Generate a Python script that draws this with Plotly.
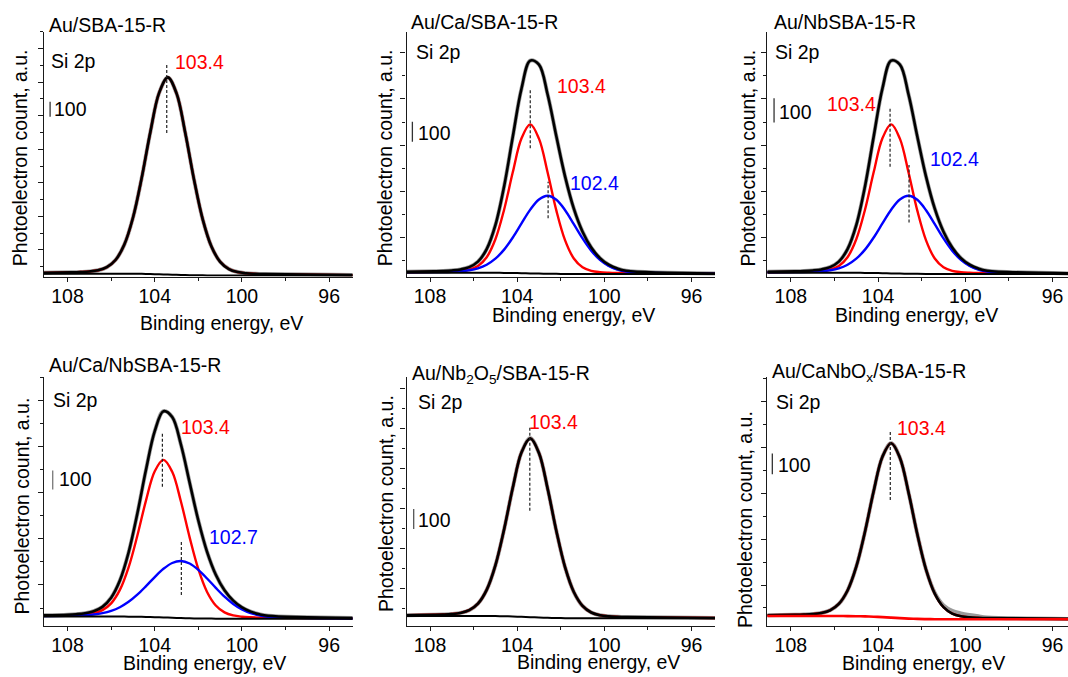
import plotly.graph_objects as go

W, H = 1068, 677
FONT = "Liberation Sans, Arial, Helvetica, sans-serif"
FS = 19.5
RED = "#ff0000"
BLUE = "#0000ff"
GREY = "#9a9a9a"
BLACK = "#000000"
AXC = "#1a1a1a"

# ---------------- data (binding energy, eV / photoelectron counts) ----------------
energy_a = [109.08, 107.8, 107.4, 107.0, 106.6, 106.2, 105.8, 105.4, 105.0, 104.6, 104.2, 103.8,
            103.4, 103.0, 102.6, 102.2, 101.8, 101.4, 101.0, 100.6, 100.2, 99.8, 99.4, 99.0, 94.92]
energy_b = [109.08, 108.0, 107.6, 107.2, 106.8, 106.4, 106.0, 105.6, 105.2, 104.8, 104.4, 104.0,
            103.6, 103.2, 102.8, 102.4, 102.0, 101.6, 101.2, 100.8, 100.4, 100.0, 99.6, 99.2, 98.8, 94.92]

# Au/SBA-15-R
p1_env = [24.5, 27.9, 29.8, 33.3, 41.6, 61.9, 110.0, 211.3, 391.6, 656.4, 964.6, 1224.8,
          1328.0, 1221.0, 957.6, 647.2, 381.0, 199.9, 98.1, 49.9, 29.6, 21.3, 17.8, 15.9, 9.5]
p1_bg = [19, 19, 19, 19, 19, 19, 18.9, 18.7, 18.3, 17.6, 16.5, 14.9,
         13.0, 11.1, 9.5, 8.4, 7.7, 7.3, 7.0, 7.0, 7.0, 7.0, 7.0, 7.0, 7.0]

# Au/Ca/SBA-15-R
p2_env = [23.6, 26.3, 27.7, 30.4, 35.4, 47.0, 74.5, 136.5, 256.7, 450.4, 699.9, 940.1,
          1079.2, 1059.8, 908.7, 699.8, 499.2, 339.3, 224.0, 144.6, 92.1, 59.0, 39.5, 29.0, 15.1]
p2_red = [21.6, 23.2, 24.0, 25.4, 28.1, 34.7, 52.5, 96.4, 186.2, 334.0, 522.1, 691.1,
          760.6, 689.3, 518.7, 329.3, 180.6, 90.3, 46.2, 28.2, 21.6, 18.9, 17.5, 16.7, 13.7]
p2_blue = [21.0, 22.1, 22.7, 24.0, 26.3, 31.3, 40.9, 58.9, 89.0, 134.4, 195.1, 265.5,
           334.2, 385.2, 403.9, 383.8, 331.5, 261.7, 190.4, 128.9, 83.0, 52.6, 34.5, 24.8, 13.9]
p2_bg = [19.0, 19.0, 19.0, 19.0, 19.0, 19.0, 18.9, 18.8, 18.5, 18.0, 17.3, 16.5,
         15.6, 14.7, 13.9, 13.3, 12.9, 12.7, 12.6, 12.5, 12.5, 12.5, 12.5, 12.5, 12.5]

# Au/NbSBA-15-R
p3_env = [19.4, 21.6, 22.7, 24.9, 29.0, 38.5, 61.1, 111.9, 210.5, 369.3, 573.9, 770.9,
          884.9, 869.0, 745.1, 573.8, 409.3, 278.2, 183.7, 118.6, 75.5, 48.4, 32.4, 23.8, 12.4]
p3_red = [17.7, 19.0, 19.7, 20.8, 23.0, 28.5, 43.1, 79.0, 152.7, 273.9, 428.1, 566.7,
          623.7, 565.2, 425.3, 270.0, 148.1, 74.0, 37.9, 23.1, 17.7, 15.5, 14.4, 13.7, 11.2]
p3_blue = [17.2, 18.1, 18.6, 19.7, 21.6, 25.7, 33.5, 48.3, 73.0, 110.2, 160.0, 217.7,
           274.0, 315.9, 331.2, 314.7, 271.8, 214.6, 156.1, 105.7, 68.1, 43.1, 28.3, 20.3, 11.4]
p3_bg = [15.6, 15.6, 15.6, 15.6, 15.6, 15.6, 15.5, 15.4, 15.2, 14.8, 14.2, 13.5,
         12.8, 12.1, 11.4, 10.9, 10.6, 10.4, 10.3, 10.3, 10.3, 10.3, 10.3, 10.3, 10.3]

# Au/Ca/NbSBA-15-R
p4_env = [53.8, 57.1, 59.8, 64.8, 75.5, 98.9, 147.4, 238.2, 386.7, 592.2, 826.3, 1030.2,
          1135.5, 1104.7, 959.2, 757.4, 556.4, 390.4, 269.3, 186.5, 131.7, 96.2, 73.6, 59.6, 51.6, 39.1]
p4_red = [51.7, 53.7, 55.3, 58.3, 65.0, 81.3, 117.4, 188.6, 308.3, 475.4, 663.2, 817.7,
          877.7, 814.5, 657.2, 467.2, 298.6, 177.9, 106.2, 69.7, 53.3, 46.6, 43.6, 42.0, 41.1, 37.7]
p4_blue = [49.8, 51.1, 52.2, 54.2, 58.2, 65.3, 77.6, 97.0, 125.4, 163.2, 208.6, 256.7,
           300.5, 331.2, 341.5, 328.4, 295.1, 249.2, 199.5, 152.9, 114.4, 85.6, 66.0, 53.6, 46.5, 37.4]
p4_bg = [47.7, 47.7, 47.7, 47.7, 47.7, 47.7, 47.6, 47.4, 47.0, 46.4, 45.5, 44.2,
         42.7, 41.0, 39.5, 38.2, 37.3, 36.7, 36.4, 36.1, 36.0, 36.0, 36.0, 36.0, 36.0, 36.0]

# Au/Nb2O5/SBA-15-R
p5_env = [51.3, 53.6, 54.8, 57.2, 62.9, 76.6, 109.4, 178.2, 300.7, 480.5, 689.7, 866.1,
          935.8, 862.6, 683.0, 471.6, 290.4, 167.3, 98.0, 65.1, 51.4, 45.7, 43.3, 42.1, 37.7]
p5_bg = [47.5, 47.5, 47.5, 47.5, 47.5, 47.5, 47.4, 47.2, 46.9, 46.2, 45.1, 43.5,
         41.8, 40.0, 38.4, 37.3, 36.6, 36.3, 36.0, 36.0, 36.0, 36.0, 36.0, 36.0, 36.0]

# Au/CaNbOx/SBA-15-R
p6_env = [49.1, 51.3, 52.5, 54.7, 60.0, 72.9, 103.5, 167.8, 282.3, 450.4, 645.8, 810.2,
          874.7, 805.4, 636.7, 438.2, 268.3, 152.8, 87.8, 57.1, 44.2, 38.9, 36.7, 35.5, 31.4]
p6_data = [49.1, 51.3, 52.5, 54.7, 60.0, 72.9, 103.5, 167.8, 282.3, 450.4, 645.8, 810.2,
           874.7, 805.4, 636.7, 438.2, 268.3, 156.0, 96.0, 70.0, 58.0, 50.0, 44.0, 39.0, 31.4]
p6_bg = [45.6, 45.6, 45.6, 45.6, 45.6, 45.6, 45.5, 45.2, 44.7, 43.8, 42.3, 40.1,
         37.7, 35.3, 33.2, 31.6, 30.7, 30.2, 29.8, 29.8, 29.8, 29.8, 29.8, 29.8, 29.8]

sample_names = ["Au/SBA-15-R", "Au/Ca/SBA-15-R", "Au/NbSBA-15-R", "Au/Ca/NbSBA-15-R",
                "Au/Nb<sub>2</sub>O<sub>5</sub>/SBA-15-R", "Au/CaNbO<sub>x</sub>/SBA-15-R"]
core_level = "Si 2p"
x_tick_vals = [108, 104, 100, 96]
x_tick_text = ["108", "104", "100", "96"]
x_minor_vals = [106, 102, 98]
red_centers = [103.45, 103.4, 103.45, 103.65, 103.42, 103.44]
red_labels = ["103.4", "103.4", "103.4", "103.4", "103.4", "103.4"]
blue_centers = [None, 102.58, 102.58, 102.78, None, None]
blue_labels = [None, "102.4", "102.4", "102.7", None, None]
scale_bar_counts = 100
scale_bar_label = "100"

# ---------------- layout (pixel geometry of the reference) ----------------
panel_px = [(44, 352.7, 31.5, 276.5), (406.5, 715, 31.5, 276.5), (767.3, 1068, 31.5, 276.5),
            (44, 352.7, 377, 625.5), (406.5, 715, 377, 625.5), (767.3, 1068, 377, 625.5)]
x_ranges = [[109.08, 94.92], [109.08, 94.92], [109.08, 95.29],
            [109.08, 94.92], [109.08, 94.92], [109.08, 95.29]]
y_tops = [1634, 1225, 1004.5, 1317, 1242.5, 1192.8]
y_tick0 = [176.8, 194, 159.1, 214.7, 186, 194.4]
y_dtick = [224, 231.25, 189.6, 244.2, 200, 219.8]
red_dash = [(957, 1411), (641, 932), (450, 690), (736, 1019), (574, 991), (602, 930)]
blue_dash = [None, (291, 474), (221, 457), (162, 444), None, None]
bar_x = [108.8, 108.81, 108.77, 108.68, 108.75, 108.85]
bar_y0 = [1066, 674, 631, 721, 482, 726]
bar_col = ["#333333", "#333333", "#333333", "#777777", "#555555", "#333333"]

title_px = [(48, 25), (410, 21.7), (772.7, 21.7), (48, 365), (410.7, 374), (770.7, 372.5)]
si_px = [(50, 61), (415, 51.7), (774, 51.7), (51.7, 400), (416.7, 401.7), (775, 401.7)]
hundred_px = [(52.7, 109), (416.7, 132.7), (778, 111.7), (58, 479.3), (417, 520), (777, 465)]
red_lbl_px = [(174, 62.3), (556, 86), (826, 104), (180, 427.3), (528.3, 422.3), (895.7, 428.3)]
blue_lbl_px = [None, (569.3, 182.7), (929, 159.3), (208, 537.3), None, None]
xtitle_px = [(221.7, 323), (573.3, 315), (916.3, 315), (204.2, 663), (598.8, 662), (923.3, 663)]
ytitle_px = [(20, 158.3), (385, 158.3), (748.3, 158.3), (21.7, 505.8), (386.7, 503.3), (745, 520)]

panel_energy = [energy_a, energy_a, energy_a, energy_b, energy_a, energy_a]
panel_env = [p1_env, p2_env, p3_env, p4_env, p5_env, p6_env]
panel_data = [p1_env, p2_env, p3_env, p4_env, p5_env, p6_data]
panel_red = [p1_env, p2_red, p3_red, p4_red, p5_env, p6_env]
panel_blue = [None, p2_blue, p3_blue, p4_blue, None, None]
panel_bg = [p1_bg, p2_bg, p3_bg, p4_bg, p5_bg, p6_bg]
bg_color = [BLACK, BLACK, BLACK, BLACK, BLACK, RED]


def px_x(v):
    return v / W


def px_y(v):
    return 1 - v / H


fig = go.Figure()
annotations = []
shapes = []

for i in range(6):
    n = i + 1
    xa = "x" if n == 1 else f"x{n}"
    ya = "y" if n == 1 else f"y{n}"
    E = panel_energy[i]

    def line(y, color, width):
        fig.add_trace(go.Scatter(x=E, y=y, xaxis=xa, yaxis=ya, mode="lines",
                                 line=dict(color=color, width=width, shape="spline", smoothing=1),
                                 hoverinfo="skip", showlegend=False))

    line(panel_data[i], GREY, 4)
    line(panel_red[i], RED, 2.4)
    if panel_blue[i] is not None:
        line(panel_blue[i], BLUE, 2.4)
    if bg_color[i] == BLACK:
        line(panel_bg[i], BLACK, 2.0)
        line(panel_env[i], BLACK, 2.6)
    else:
        line(panel_env[i], BLACK, 2.6)
        line(panel_bg[i], RED, 2.6)

    l, r, t, b = panel_px[i]
    fig.layout[f"xaxis{'' if n == 1 else n}"] = dict(
        domain=[px_x(l), min(1.0, px_x(r))], range=x_ranges[i], anchor=ya,
        showline=True, linecolor=AXC, linewidth=1.3, mirror=False,
        ticks="outside", ticklen=4, tickwidth=1.1, tickcolor=AXC,
        tickvals=x_tick_vals, ticktext=x_tick_text, ticklabelstandoff=-2,
        tickfont=dict(family=FONT, size=FS, color=BLACK),
        minor=dict(tickvals=x_minor_vals, ticks="outside", ticklen=3, tickwidth=1.1, tickcolor=AXC),
        showgrid=False, zeroline=False, fixedrange=True)
    fig.layout[f"yaxis{'' if n == 1 else n}"] = dict(
        domain=[px_y(b), px_y(t)], range=[0, y_tops[i]], anchor=xa,
        showline=True, linecolor=AXC, linewidth=1.3,
        ticks="outside", ticklen=5, tickwidth=1.1, tickcolor=AXC,
        tick0=y_tick0[i], dtick=y_dtick[i], showticklabels=False,
        minor=dict(tick0=y_tick0[i], dtick=y_dtick[i] / 2, ticks="outside", ticklen=3,
                   tickwidth=1.1, tickcolor=AXC),
        showgrid=False, zeroline=False, fixedrange=True)

    # dashed peak markers
    y0, y1 = red_dash[i]
    shapes.append(dict(type="line", xref=xa, yref=ya, x0=red_centers[i], x1=red_centers[i],
                       y0=y0, y1=y1, line=dict(color="#222222", width=1.2, dash="3px,2px")))
    if blue_centers[i] is not None:
        y0, y1 = blue_dash[i]
        shapes.append(dict(type="line", xref=xa, yref=ya, x0=blue_centers[i], x1=blue_centers[i],
                           y0=y0, y1=y1, line=dict(color="#222222", width=1.2, dash="3px,2px")))
    # scale bar (100 counts)
    shapes.append(dict(type="line", xref=xa, yref=ya, x0=bar_x[i], x1=bar_x[i],
                       y0=bar_y0[i], y1=bar_y0[i] + scale_bar_counts,
                       line=dict(color=bar_col[i], width=1.3)))

    def note(text, pos, color=BLACK, xanchor="left", angle=0):
        annotations.append(dict(text=text, x=px_x(pos[0]), y=px_y(pos[1]), xref="paper", yref="paper",
                                xanchor=xanchor, yanchor="middle", showarrow=False, textangle=angle,
                                font=dict(family=FONT, size=FS, color=color), borderpad=0))

    note(sample_names[i], title_px[i])
    note(core_level, si_px[i])
    note(scale_bar_label, hundred_px[i])
    note(red_labels[i], red_lbl_px[i], RED)
    if blue_labels[i] is not None:
        note(blue_labels[i], blue_lbl_px[i], BLUE)
    note("Binding energy, eV", xtitle_px[i], xanchor="center")
    note("Photoelectron count, a.u.", ytitle_px[i], xanchor="center", angle=-90)

fig.update_layout(width=W, height=H, margin=dict(l=0, r=0, t=0, b=0),
                  paper_bgcolor="white", plot_bgcolor="white", showlegend=False,
                  annotations=annotations, shapes=shapes,
                  font=dict(family=FONT, size=FS, color=BLACK))

fig.write_html("out.html", config={"displayModeBar": False, "staticPlot": False},
               post_script="document.body.style.margin='0';document.body.style.padding='0';"
                           "document.documentElement.style.overflow='hidden';")
